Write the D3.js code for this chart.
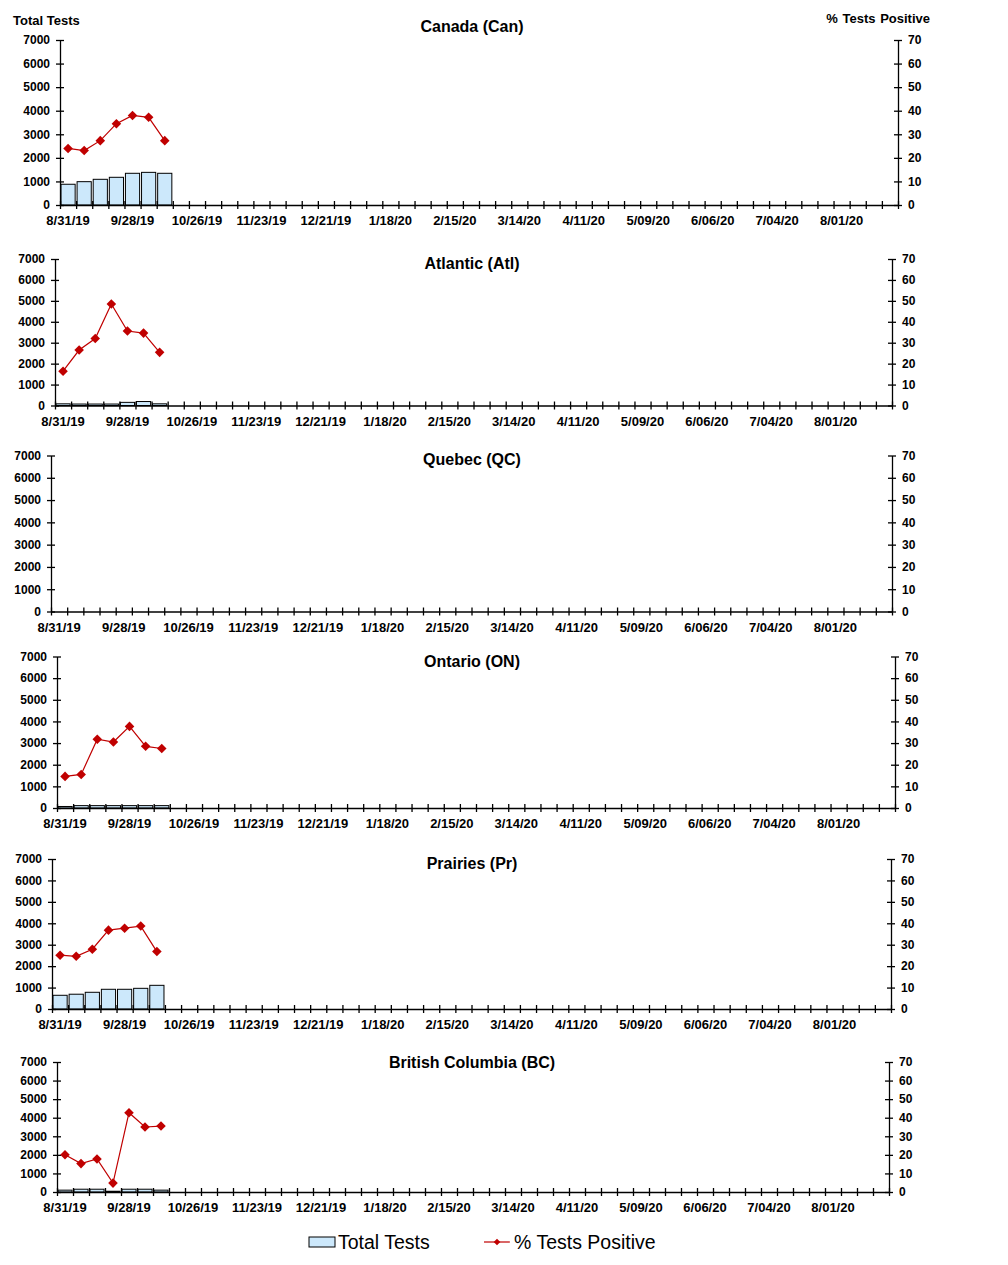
<!DOCTYPE html>
<html>
<head>
<meta charset="utf-8">
<script src="https://cdn.jsdelivr.net/npm/d3@7"></script>
<style>
  body { margin: 0; background: #fff; }
  svg { display: block; font-family: "Liberation Sans", Arial, sans-serif; }
</style>
</head>
<body>
<svg id="chart" width="1008" height="1265"></svg>
<script>
// weekly categories, 8/31/19 .. 8/22/20
const weekCount = 52;
const tickLabels = ["8/31/19", "9/28/19", "10/26/19", "11/23/19", "12/21/19", "1/18/20", "2/15/20",
  "3/14/20", "4/11/20", "5/09/20", "6/06/20", "7/04/20", "8/01/20"];
const testTicks = [0, 1000, 2000, 3000, 4000, 5000, 6000, 7000];
const pctTicks = [0, 10, 20, 30, 40, 50, 60, 70];

const regions = ["Canada (Can)", "Atlantic (Atl)", "Quebec (QC)", "Ontario (ON)", "Prairies (Pr)", "British Columbia (BC)"];

const canTests = [880, 990, 1090, 1175, 1345, 1385, 1345];
const canPct = [24.0, 23.1, 27.3, 34.5, 38.0, 37.2, 27.3];
const atlTests = [80, 70, 70, 70, 150, 190, 80];
const atlPct = [16.4, 26.5, 32.0, 48.5, 35.6, 34.6, 25.4];
const qcTests = [];
const qcPct = [];
const onTests = [70, 110, 110, 110, 110, 110, 110];
const onPct = [14.6, 15.5, 31.8, 30.5, 37.7, 28.5, 27.5];
const prTests = [640, 690, 780, 920, 920, 965, 1105];
const prPct = [25.1, 24.6, 27.9, 36.8, 37.7, 38.7, 26.8];
const bcTests = [100, 150, 150, 40, 150, 150, 100];
const bcPct = [20.1, 15.3, 17.8, 4.8, 42.7, 35.0, 35.5];

const testsByRegion = [canTests, atlTests, qcTests, onTests, prTests, bcTests];
const pctByRegion = [canPct, atlPct, qcPct, onPct, prPct, bcPct];

// panel frames (pixels)
const frames = [
  { left: 60, right: 898, top: 40, bottom: 205, titleY: 32 },
  { left: 55, right: 892, top: 259, bottom: 405.5, titleY: 269 },
  { left: 51, right: 892, top: 455.5, bottom: 611.5, titleY: 465 },
  { left: 57, right: 895, top: 656.5, bottom: 808, titleY: 667 },
  { left: 52, right: 891, top: 859, bottom: 1009, titleY: 869 },
  { left: 57, right: 889, top: 1062, bottom: 1192, titleY: 1068 }
];

const barFill = "#cce8fb";
const lineColor = "#c00000";
const cross = 4;

const svg = d3.select("#chart");

svg.append("text").attr("x", 13).attr("y", 25)
  .style("font-size", "13px").style("font-weight", "bold").text("Total Tests");
svg.append("text").attr("x", 930).attr("y", 23).attr("text-anchor", "end")
  .style("font-size", "13px").style("font-weight", "bold").style("word-spacing", "1px").text("% Tests Positive");

const marker = d3.symbol().type(d3.symbolSquare).size(46);

regions.forEach((name, r) => {
  const f = frames[r];
  const tests = testsByRegion[r];
  const pct = pctByRegion[r];
  const g = svg.append("g");

  const xBand = d3.scaleBand()
    .domain(d3.range(weekCount))
    .range([f.left, f.right])
    .paddingInner(0.12)
    .paddingOuter(0.06);
  const xEdge = d3.scaleLinear().domain([0, weekCount]).range([f.left, f.right]);
  const yL = d3.scaleLinear().domain([0, 7000]).range([f.bottom, f.top]);
  const yR = d3.scaleLinear().domain([0, 70]).range([f.bottom, f.top]);

  // bars
  g.selectAll(".bar")
    .data(tests)
    .enter()
    .append("rect")
    .attr("class", "bar")
    .attr("x", (d, i) => xBand(i))
    .attr("y", (d) => yL(d))
    .attr("width", xBand.bandwidth())
    .attr("height", (d) => yL(0) - yL(d))
    .attr("fill", barFill)
    .attr("stroke", "#000")
    .attr("stroke-width", 1);

  // x axis: ticks on week boundaries
  const xAxisG = g.append("g")
    .attr("transform", `translate(0,${f.bottom})`)
    .call(d3.axisBottom(xEdge).tickValues(d3.range(weekCount + 1)).tickFormat("").tickSizeInner(cross).tickSizeOuter(0));
  xAxisG.selectAll(".tick line").attr("y1", -cross);

  // x labels centred on every 4th week
  const xLab = g.append("g")
    .attr("transform", `translate(0,${f.bottom})`)
    .call(d3.axisBottom(xBand)
      .tickValues(d3.range(0, weekCount, 4))
      .tickFormat((i) => tickLabels[i / 4])
      .tickSize(0)
      .tickPadding(11));
  xLab.select(".domain").remove();
  xLab.selectAll("text").style("font-size", "13px").style("font-weight", "bold").attr("fill", "#000");

  // left axis
  const yLG = g.append("g")
    .attr("transform", `translate(${f.left},0)`)
    .call(d3.axisLeft(yL).tickValues(testTicks).tickFormat(d3.format("d")).tickSizeInner(cross).tickSizeOuter(0).tickPadding(6));
  yLG.selectAll(".tick line").attr("x1", cross);
  yLG.selectAll("text").style("font-size", "12px").style("font-weight", "bold").attr("fill", "#000");

  // right axis
  const yRG = g.append("g")
    .attr("transform", `translate(${f.right},0)`)
    .call(d3.axisRight(yR).tickValues(pctTicks).tickSizeInner(cross).tickSizeOuter(0).tickPadding(6));
  yRG.selectAll(".tick line").attr("x1", -cross);
  yRG.selectAll("text").style("font-size", "12px").style("font-weight", "bold").attr("fill", "#000");

  svg.selectAll("g .domain, g .tick line").attr("stroke", "#000").attr("stroke-width", 1.3);

  // % positive line
  const line = d3.line()
    .x((d, i) => xBand(i) + xBand.bandwidth() / 2)
    .y((d) => yR(d));
  if (pct.length) {
    g.append("path")
      .datum(pct)
      .attr("fill", "none")
      .attr("stroke", lineColor)
      .attr("stroke-width", 1.2)
      .attr("d", line);
  }
  g.selectAll(".pt")
    .data(pct)
    .enter()
    .append("path")
    .attr("class", "pt")
    .attr("d", marker)
    .attr("transform", (d, i) => `translate(${xBand(i) + xBand.bandwidth() / 2},${yR(d)}) rotate(45)`)
    .attr("fill", lineColor);

  g.append("text")
    .attr("x", 472)
    .attr("y", f.titleY)
    .attr("text-anchor", "middle")
    .style("font-size", "16px")
    .style("font-weight", "bold")
    .text(name);
});

// legend
const leg = svg.append("g").attr("transform", "translate(0,1242)");
leg.append("rect").attr("x", 309).attr("y", -5).attr("width", 26).attr("height", 10)
  .attr("fill", barFill).attr("stroke", "#000").attr("stroke-width", 1);
leg.append("text").attr("x", 338).attr("y", 7).style("font-size", "19.5px").text("Total Tests");
leg.append("line").attr("x1", 484).attr("x2", 510).attr("y1", 0).attr("y2", 0)
  .attr("stroke", lineColor).attr("stroke-width", 1.2);
leg.append("path").attr("d", d3.symbol().type(d3.symbolSquare).size(22))
  .attr("transform", "translate(497,0) rotate(45)").attr("fill", lineColor);
leg.append("text").attr("x", 514).attr("y", 7).style("font-size", "19.5px").text("% Tests Positive");
</script>
</body>
</html>
